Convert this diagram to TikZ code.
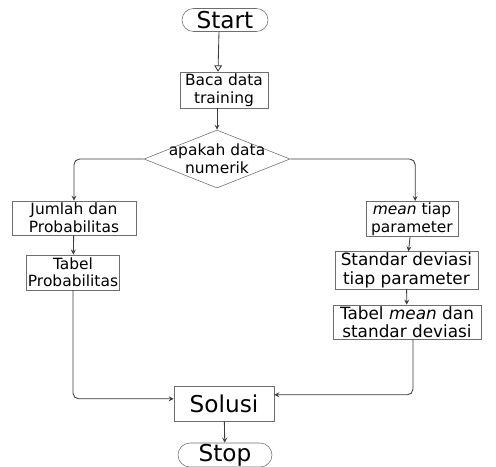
\documentclass[tikz,border=0pt]{standalone}
\usepackage{fontspec}
\setmainfont{DejaVu Sans}
\usepackage{tikz}
\usetikzlibrary{shapes.geometric, shapes.misc, arrows, arrows.meta, positioning}
\definecolor{boxgray}{RGB}{110,110,110}
\definecolor{linegray}{RGB}{60,60,60}
\tikzstyle{startstop} = [draw=boxgray, rounded rectangle, align=center, font=\fontsize{16.5}{18}\selectfont, inner sep=0pt]
\tikzstyle{process} = [draw=boxgray, rectangle, align=center, inner sep=1pt, font=\fontsize{11}{12.5}\selectfont]
\tikzstyle{decision} = [draw=boxgray, diamond, minimum width=3.65cm, minimum height=1.45cm, inner sep=0pt]
\tikzstyle{arrow} = [semithick, ->, >=stealth, color=linegray]

\begin{document}
\begin{tikzpicture}
    \useasboundingbox (0,0) rectangle (12.4,-11.65);
    \node [startstop, minimum width=2.15cm, minimum height=0.575cm] (start) at (5.625,-0.5) {Start};
    \node [process, minimum width=2.2cm, minimum height=0.9cm] (baca) at (5.6,-2.25) {Baca data\\training};
    \node [decision, label={[align=center, font=\fontsize{11}{12.5}\selectfont]center:apakah data\\numerik}] (cek) at (5.425,-3.975) {};
    \node [process, minimum width=3.1cm, minimum height=0.85cm] (jumlah) at (1.85,-5.45) {Jumlah dan\\Probabilitas};
    \node [process, minimum width=2.3cm, minimum height=0.875cm] (tabelprob) at (1.825,-6.81) {Tabel\\Probabilitas};
    \node [process, minimum width=2.3cm, minimum height=0.8cm] (mean) at (10.3,-5.475) {\textit{mean} tiap\\parameter};
    \node [process, minimum width=3.575cm, minimum height=0.875cm, font=\fontsize{12}{13}\selectfont] (stdev) at (10.16,-6.76) {Standar deviasi\\tiap parameter};
    \node [process, minimum width=3.7cm, minimum height=0.85cm, font=\fontsize{12}{13}\selectfont] (tabelmean) at (10.175,-8.05) {Tabel \textit{mean} dan\\standar deviasi};
    \node [process, minimum width=2.5cm, minimum height=0.875cm, font=\fontsize{16.5}{18}\selectfont] (solusi) at (5.6,-10.09) {Solusi};
    \node [startstop, minimum width=2.35cm, minimum height=0.6cm] (stop) at (5.625,-11.375) {Stop};
    \draw [semithick, color=linegray, -{Triangle[open, length=4.5pt, width=5.5pt]}] ([xshift=-0.15cm]start.south) -- ([xshift=-0.15cm]baca.north);
    \draw [arrow] (baca.south -| cek.north) -- (cek.north);
    \draw [arrow, rounded corners=4pt] (cek.west) -| (jumlah.north);
    \draw [arrow, rounded corners=4pt] (cek.east) -| ([xshift=0.08cm]mean.north);
    \draw [arrow] (jumlah) -- (tabelprob);
    \draw [arrow] (mean) -- (stdev);
    \draw [arrow] (stdev) -- (tabelmean);
    \draw [arrow, rounded corners=4pt] (tabelprob.south) |- ([yshift=0.12cm]solusi.west);
    \draw [arrow, rounded corners=4pt] ([xshift=0.15cm]tabelmean.south) |- ([yshift=0.22cm]solusi.east);
    \draw [arrow] (solusi) -- (stop);
\end{tikzpicture}
\end{document}
